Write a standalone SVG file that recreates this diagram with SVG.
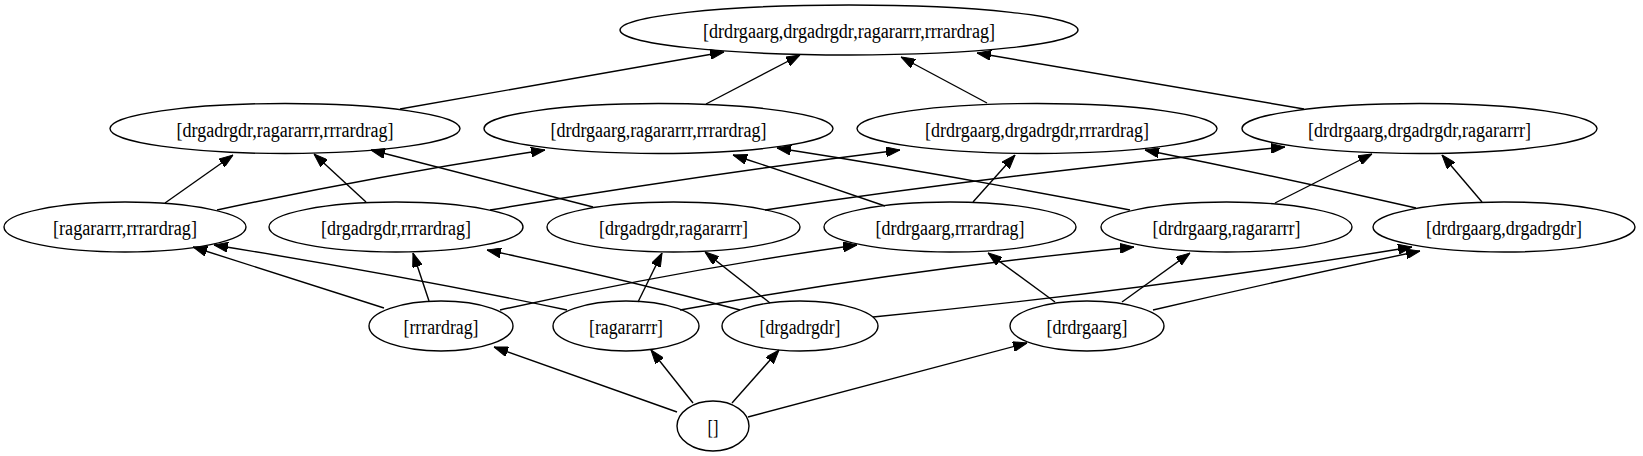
<svg xmlns="http://www.w3.org/2000/svg" width="1643" height="456" viewBox="0 0 1643 456">
<style>
.n ellipse{fill:none;stroke:#000;stroke-width:1.4}
.n text{font-family:"Liberation Serif","Times New Roman",serif;font-size:20px;text-anchor:middle;fill:#000}
.e path{fill:none;stroke:#000;stroke-width:1.4;marker-end:url(#ah)}
</style>
<defs>
<marker id="ah" markerUnits="userSpaceOnUse" markerWidth="14" markerHeight="10" viewBox="0 0 14 10" refX="14" refY="5" orient="auto">
<path d="M0,0 L14,5 L0,10 z" fill="#000" stroke="#000" stroke-width="1"/>
</marker>
</defs>
<rect width="1643" height="456" fill="#fff"/>
<g id="edges" class="e">
<path d="M677,412 L494,347"/>
<path d="M693,403 L651,350"/>
<path d="M732,403 L779,350"/>
<path d="M748,417 L1027,343"/>
<path d="M384,308 Q290,278 193,247"/>
<path d="M429,301 L413,253"/>
<path d="M500,310 Q680,270 857,245"/>
<path d="M567,310 Q400,275 214,245"/>
<path d="M638,302 L662,253"/>
<path d="M680,310 Q900,270 1134,247"/>
<path d="M740,310 Q620,278 487,250"/>
<path d="M770,303 L705,252"/>
<path d="M873,317 Q1150,290 1412,247"/>
<path d="M1055,302 L988,253"/>
<path d="M1122,302 L1190,253"/>
<path d="M1153,310 Q1290,278 1420,251"/>
<path d="M165,203 L233,155"/>
<path d="M217,210 Q380,175 545,150"/>
<path d="M366,202 L314,154"/>
<path d="M490,210 Q700,175 900,150"/>
<path d="M593,207 Q480,178 371,150"/>
<path d="M765,210 Q1020,172 1285,147"/>
<path d="M885,206 Q810,180 733,155"/>
<path d="M973,202 L1015,155"/>
<path d="M1130,210 Q950,175 777,148"/>
<path d="M1275,203 L1372,154"/>
<path d="M1416,208 Q1280,177 1145,150"/>
<path d="M1482,202 L1442,155"/>
<path d="M400,109 L724,52"/>
<path d="M706,104 L800,55"/>
<path d="M987,103 L901,57"/>
<path d="M1304,109 L977,53"/>
</g>
<g id="n_top" class="n"><ellipse cx="849" cy="30" rx="229" ry="25"/><text x="849" y="38" textLength="292" lengthAdjust="spacingAndGlyphs">[drdrgaarg,drgadrgdr,ragararrr,rrrardrag]</text></g>
<g id="n_gra" class="n"><ellipse cx="285" cy="128.5" rx="175" ry="25"/><text x="285" y="136.5" textLength="217" lengthAdjust="spacingAndGlyphs">[drgadrgdr,ragararrr,rrrardrag]</text></g>
<g id="n_dra" class="n"><ellipse cx="658.5" cy="128.5" rx="174.5" ry="25"/><text x="658.5" y="136.5" textLength="216" lengthAdjust="spacingAndGlyphs">[drdrgaarg,ragararrr,rrrardrag]</text></g>
<g id="n_dga" class="n"><ellipse cx="1037" cy="128.5" rx="180" ry="25"/><text x="1037" y="136.5" textLength="224" lengthAdjust="spacingAndGlyphs">[drdrgaarg,drgadrgdr,rrrardrag]</text></g>
<g id="n_dgr" class="n"><ellipse cx="1419.5" cy="128.5" rx="177.5" ry="25"/><text x="1419.5" y="136.5" textLength="223" lengthAdjust="spacingAndGlyphs">[drdrgaarg,drgadrgdr,ragararrr]</text></g>
<g id="n_ra" class="n"><ellipse cx="125" cy="227" rx="121" ry="25"/><text x="125" y="235" textLength="144" lengthAdjust="spacingAndGlyphs">[ragararrr,rrrardrag]</text></g>
<g id="n_ga" class="n"><ellipse cx="396" cy="227" rx="127" ry="25"/><text x="396" y="235" textLength="150" lengthAdjust="spacingAndGlyphs">[drgadrgdr,rrrardrag]</text></g>
<g id="n_gr" class="n"><ellipse cx="673.5" cy="227" rx="126.5" ry="25"/><text x="673.5" y="235" textLength="149" lengthAdjust="spacingAndGlyphs">[drgadrgdr,ragararrr]</text></g>
<g id="n_da" class="n"><ellipse cx="950" cy="227" rx="126" ry="25"/><text x="950" y="235" textLength="149" lengthAdjust="spacingAndGlyphs">[drdrgaarg,rrrardrag]</text></g>
<g id="n_dr" class="n"><ellipse cx="1226.5" cy="227" rx="125.5" ry="25"/><text x="1226.5" y="235" textLength="148" lengthAdjust="spacingAndGlyphs">[drdrgaarg,ragararrr]</text></g>
<g id="n_dg" class="n"><ellipse cx="1504" cy="227" rx="131" ry="25"/><text x="1504" y="235" textLength="156" lengthAdjust="spacingAndGlyphs">[drdrgaarg,drgadrgdr]</text></g>
<g id="n_a" class="n"><ellipse cx="441" cy="326" rx="72" ry="25"/><text x="441" y="334" textLength="75" lengthAdjust="spacingAndGlyphs">[rrrardrag]</text></g>
<g id="n_r" class="n"><ellipse cx="626" cy="326" rx="73" ry="25"/><text x="626" y="334" textLength="74" lengthAdjust="spacingAndGlyphs">[ragararrr]</text></g>
<g id="n_g" class="n"><ellipse cx="800" cy="326" rx="78" ry="25"/><text x="800" y="334" textLength="81" lengthAdjust="spacingAndGlyphs">[drgadrgdr]</text></g>
<g id="n_d" class="n"><ellipse cx="1087" cy="326" rx="77" ry="25"/><text x="1087" y="334" textLength="81" lengthAdjust="spacingAndGlyphs">[drdrgaarg]</text></g>
<g id="n_empty" class="n"><ellipse cx="713" cy="426" rx="36" ry="25"/><text x="713" y="434" textLength="11" lengthAdjust="spacingAndGlyphs">[]</text></g>
</svg>
